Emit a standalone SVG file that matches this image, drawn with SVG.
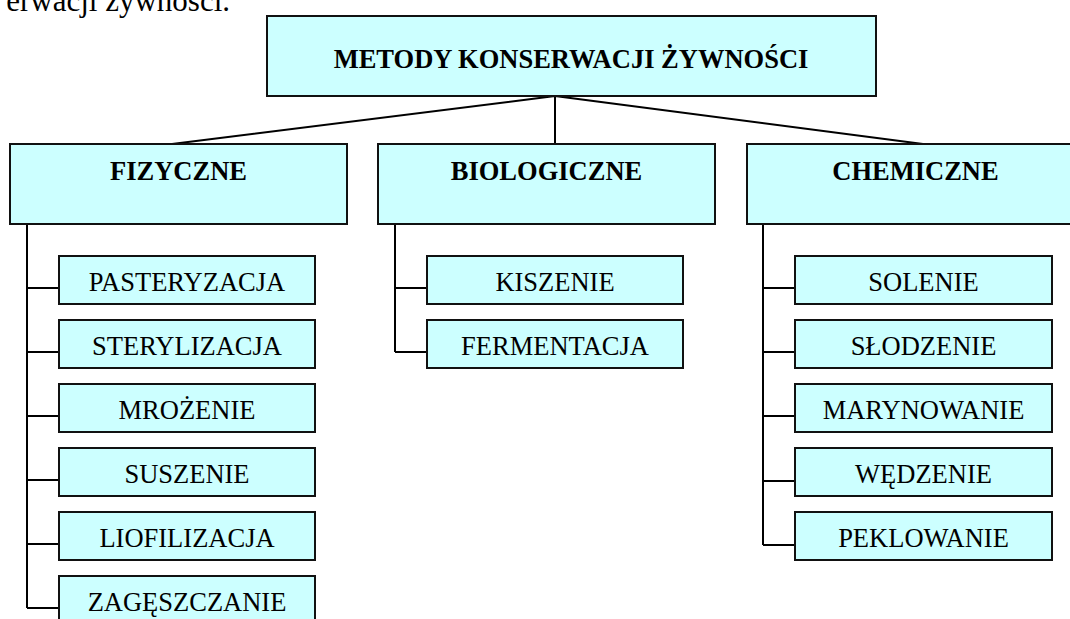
<svg xmlns="http://www.w3.org/2000/svg" width="1070" height="619" viewBox="0 0 1070 619">
<style>
.box{fill:#CCFFFF;stroke:#111;stroke-width:2}
.ln{stroke:#000;stroke-width:2;fill:none}
.t{font-family:"Liberation Serif","Times New Roman",serif;font-size:26.5px;fill:#000;text-anchor:middle}
.b{font-weight:bold}
</style>
<rect width="1070" height="619" fill="#fff"/>
<text x="230" y="11" font-family="Liberation Serif, Times New Roman, serif" font-size="31" text-anchor="end">erwacji żywności.</text>
<g id="connectors">
<path class="ln" d="M555,96 L172,144 M555,96 L555,144 M555,96 L923,144"/>
<path class="ln" d="M27,224 V608 M27,288 H59 M27,352 H59 M27,416 H59 M27,480 H59 M27,544 H59 M27,608 H59"/>
<path class="ln" d="M395,224 V352 M395,288 H427 M395,352 H427"/>
<path class="ln" d="M763,224 V545 M763,288 H795 M763,352 H795 M763,416 H795 M763,481 H795 M763,545 H795"/>
</g>
<g id="root"><rect class="box" x="267" y="16" width="609" height="80"/><text class="t b" x="571" y="68">METODY KONSERWACJI ŻYWNOŚCI</text></g>
<g id="fizyczne"><rect class="box" x="10" y="144" width="337" height="80"/><text class="t b" x="178.5" y="180">FIZYCZNE</text></g>
<g id="biologiczne"><rect class="box" x="378" y="144" width="337" height="80"/><text class="t b" x="546.5" y="180">BIOLOGICZNE</text></g>
<g id="chemiczne"><rect class="box" x="747" y="144" width="337" height="80"/><text class="t b" x="915.5" y="180">CHEMICZNE</text></g>
<g id="pasteryzacja"><rect class="box" x="59" y="256" width="256" height="48"/><text class="t" x="187" y="291">PASTERYZACJA</text></g>
<g id="sterylizacja"><rect class="box" x="59" y="320" width="256" height="48"/><text class="t" x="187" y="355">STERYLIZACJA</text></g>
<g id="mrozenie"><rect class="box" x="59" y="384" width="256" height="48"/><text class="t" x="187" y="419">MROŻENIE</text></g>
<g id="suszenie"><rect class="box" x="59" y="448" width="256" height="48"/><text class="t" x="187" y="483">SUSZENIE</text></g>
<g id="liofilizacja"><rect class="box" x="59" y="512" width="256" height="48"/><text class="t" x="187" y="547">LIOFILIZACJA</text></g>
<g id="zageszczanie"><rect class="box" x="59" y="576" width="256" height="48"/><text class="t" x="187" y="611">ZAGĘSZCZANIE</text></g>
<g id="kiszenie"><rect class="box" x="427" y="256" width="256" height="48"/><text class="t" x="555" y="291">KISZENIE</text></g>
<g id="fermentacja"><rect class="box" x="427" y="320" width="256" height="48"/><text class="t" x="555" y="355">FERMENTACJA</text></g>
<g id="solenie"><rect class="box" x="795" y="256" width="257" height="48"/><text class="t" x="923.5" y="291">SOLENIE</text></g>
<g id="slodzenie"><rect class="box" x="795" y="320" width="257" height="48"/><text class="t" x="923.5" y="355">SŁODZENIE</text></g>
<g id="marynowanie"><rect class="box" x="795" y="384" width="257" height="48"/><text class="t" x="923.5" y="419">MARYNOWANIE</text></g>
<g id="wedzenie"><rect class="box" x="795" y="448" width="257" height="48"/><text class="t" x="923.5" y="483">WĘDZENIE</text></g>
<g id="peklowanie"><rect class="box" x="795" y="512" width="257" height="48"/><text class="t" x="923.5" y="547">PEKLOWANIE</text></g>
</svg>
